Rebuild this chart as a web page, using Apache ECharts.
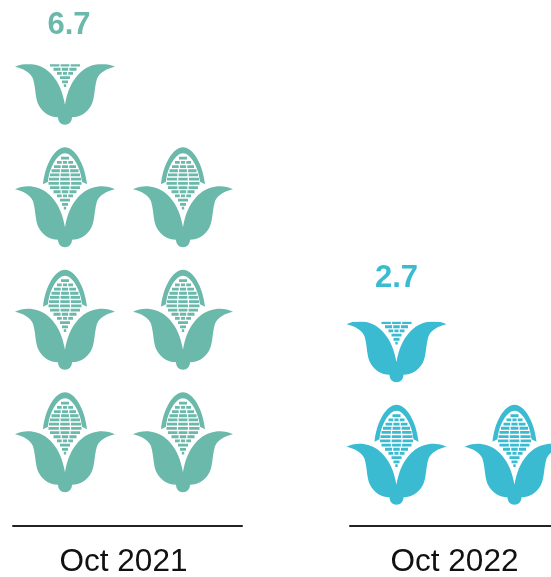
<!DOCTYPE html>
<html>
<head>
<meta charset="utf-8">
<style>
  html, body { margin: 0; padding: 0; background: #fff; }
  #chart { width: 551px; height: 577px; }
</style>
<script src="https://cdn.jsdelivr.net/npm/echarts@6/dist/echarts.min.js"></script>
</head>
<body>
<div id="chart"></div>
<script>
const categories = ['Oct 2021', 'Oct 2022'];
const totals = [6.7, 2.7];
// one icon per unit, stacked in two columns
const leftColumn = [3.7, 1.7];
const rightColumn = [3, 1];
const colors = ['#6BB9AB', '#3ABBD2'];

const kernelRows = [
  [9.5, 4], [13.7, 8], [17.9, 11], [22.1, 13.5], [26.3, 15], [30.5, 16],
  [34.7, 16.5], [38.9, 15], [43.1, 11.5], [47.3, 8], [51.5, 5], [55.7, 3], [59.5, 1.2]
];

// corn glyph, drawn in a 100 x 100 box
function cornPath() {
  let d = 'M0 42C5 39.5 12 38.5 18 39.5C32 41 46 55 50 80C54 55 68 41 82 39.5C88 38.5 95 39.5 100 42'
    + 'C92 44 85 47 82 54C79 64 80 74 76 81C72 88 65 92.5 57 92.5C57 97 54 100 50 100'
    + 'C46 100 43 97 43 92.5C35 92.5 28 88 24 81C20 74 21 64 18 54C15 47 8 44 0 42Z';
  d += 'M28 37C30 17 40 0 50 0C60 0 70 17 72 37L67 34.5C65.5 19 57 6 50 6C43 6 34.5 19 33 34.5Z';
  kernelRows.forEach(([y, w]) => {
    const parts = w > 6 ? [[-w, -w / 3 - 0.6], [-w / 3 + 0.6, w / 3 - 0.6], [w / 3 + 0.6, w]] : [[-w, w]];
    parts.forEach(([a, b]) => {
      d += `M${50 + a} ${y}L${50 + b} ${y}L${50 + b} ${y + 2.8}L${50 + a} ${y + 2.8}Z`;
    });
  });
  return 'path://' + d;
}

const corn = cornPath();
const unit = 122.5;
const iconSize = 100;

// outerBoundsMode off, otherwise the grids get squeezed to fit the window
const grids = [
  { left: 13, width: 229, top: 27.5, height: 4 * unit, outerBoundsMode: 'none' },
  { left: 350, width: 211, top: 40, height: 4 * unit, outerBoundsMode: 'none' }
];
const axisShift = [8.5, -4];
const groupShift = [-3.5, 0];
const labelShift = [0.5, 0];
const labelLift = [32.5, 28];

const xAxes = categories.map((name, i) => ({
  type: 'category',
  gridIndex: i,
  data: [name],
  offset: axisShift[i],
  axisLine: { show: true, onZero: false, lineStyle: { color: '#222', width: 2 } },
  axisTick: { show: false },
  axisLabel: {
    color: '#111',
    fontFamily: '"Liberation Sans", Arial, sans-serif',
    fontSize: 31.5,
    margin: 20,
    padding: i === 0 ? [0, 8, 0, 0] : [0, 2, 0, 0]
  }
}));

const yAxes = categories.map((name, i) => ({
  type: 'value',
  gridIndex: i,
  min: 0,
  max: 4,
  show: false
}));

function columnSeries(i, value, bounding, clip, withLabel) {
  return {
    type: 'pictorialBar',
    xAxisIndex: i,
    yAxisIndex: i,
    data: [value],
    symbol: corn,
    symbolSize: [iconSize, iconSize],
    symbolRepeat: true,
    symbolBoundingData: bounding,
    symbolClip: clip,
    symbolMargin: (unit - iconSize) / 2 + '!',
    symbolOffset: [groupShift[i], -14],
    barWidth: 118,
    barGap: '0%',
    itemStyle: { color: colors[i] },
    label: {
      show: withLabel,
      position: 'top',
      offset: [labelShift[i], labelLift[i]],
      formatter: () => totals[i].toFixed(1),
      color: colors[i],
      fontFamily: '"Liberation Sans", Arial, sans-serif',
      fontWeight: 'bold',
      fontSize: 31
    }
  };
}

const series = [];
categories.forEach((name, i) => {
  series.push(columnSeries(i, leftColumn[i], Math.ceil(leftColumn[i]), true, true));
  series.push(columnSeries(i, rightColumn[i], rightColumn[i], false, false));
});

const chart = echarts.init(document.getElementById('chart'));
chart.setOption({
  animation: false,
  backgroundColor: '#fff',
  grid: grids,
  xAxis: xAxes,
  yAxis: yAxes,
  series
});
</script>
</body>
</html>
